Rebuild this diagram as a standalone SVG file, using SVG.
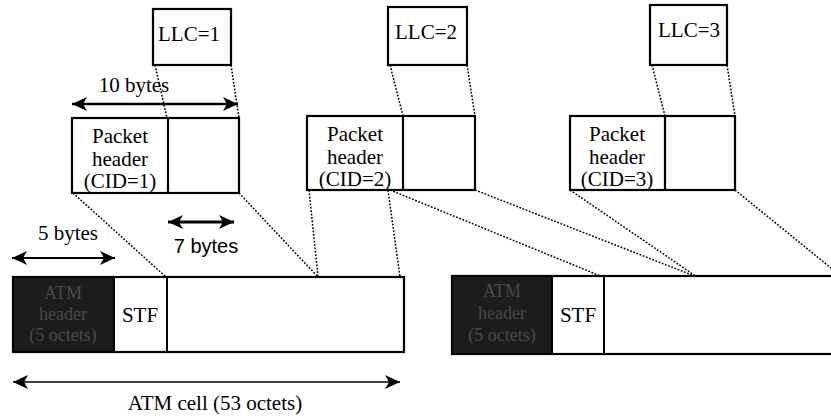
<svg xmlns="http://www.w3.org/2000/svg" width="831" height="416" viewBox="0 0 831 416">
<style>
.box{fill:#fff;stroke:#000;stroke-width:2.2}
.hdr{fill:#1c1c1c;stroke:#000;stroke-width:2}
.t{font-family:"Liberation Serif","Times New Roman",serif;font-size:21px;fill:#000;text-anchor:middle}
.s{font-family:"Liberation Sans",Arial,sans-serif;font-size:20px;fill:#000;text-anchor:middle}
.h{font-family:"Liberation Serif","Times New Roman",serif;font-size:18px;fill:#4a4a4a;text-anchor:middle}
.dot{stroke:#000;stroke-width:1.5;stroke-dasharray:1.8 1.6;fill:none}
.arr{stroke:#000;fill:none;marker-start:url(#ah);marker-end:url(#ah)}
</style>
<defs>
<marker id="ah" markerUnits="userSpaceOnUse" markerWidth="16" markerHeight="14" refX="15" refY="7" orient="auto-start-reverse">
<path d="M0,0 L15,7 L0,14 L4,7 z" fill="#000"/>
</marker>
</defs>
<rect width="831" height="416" fill="#fff"/>
<g id="connectors">
<line class="dot" x1="155" y1="65" x2="167" y2="118"/>
<line class="dot" x1="231" y1="65" x2="239" y2="118"/>
<line class="dot" x1="390" y1="65" x2="403" y2="116"/>
<line class="dot" x1="467" y1="65" x2="475" y2="116"/>
<line class="dot" x1="652" y1="65" x2="665" y2="116"/>
<line class="dot" x1="727" y1="65" x2="735" y2="116"/>
<line class="dot" x1="73" y1="193" x2="166" y2="277"/>
<line class="dot" x1="239" y1="193" x2="318" y2="277"/>
<line class="dot" x1="309" y1="190" x2="318" y2="277"/>
<line class="dot" x1="388" y1="190" x2="400" y2="277"/>
<line class="dot" x1="390" y1="190" x2="603" y2="277"/>
<line class="dot" x1="475" y1="190" x2="697" y2="277"/>
<line class="dot" x1="570" y1="190" x2="697" y2="277"/>
<line class="dot" x1="735" y1="190" x2="842" y2="277"/>
</g>
<g id="llc1"><rect class="box" x="153" y="9" width="78" height="56"/><text class="t" x="189" y="41">LLC=1</text></g>
<g id="llc2"><rect class="box" x="388" y="7" width="79" height="58"/><text class="t" x="426" y="39">LLC=2</text></g>
<g id="llc3"><rect class="box" x="650" y="5" width="77" height="60"/><text class="t" x="689" y="37">LLC=3</text></g>
<g id="pkt1"><rect class="box" x="72" y="118" width="167" height="75"/><line x1="168" y1="118" x2="168" y2="193" stroke="#000" stroke-width="2.2"/>
<text class="t" x="120" y="143">Packet</text><text class="t" x="120" y="166">header</text><text class="t" x="120" y="188">(CID=1)</text></g>
<g id="pkt2"><rect class="box" x="307" y="116" width="168" height="74"/><line x1="403" y1="116" x2="403" y2="190" stroke="#000" stroke-width="2.2"/>
<text class="t" x="355" y="141">Packet</text><text class="t" x="355" y="164">header</text><text class="t" x="355" y="186">(CID=2)</text></g>
<g id="pkt3"><rect class="box" x="570" y="116" width="165" height="74"/><line x1="665" y1="116" x2="665" y2="190" stroke="#000" stroke-width="2.2"/>
<text class="t" x="617" y="141">Packet</text><text class="t" x="617" y="164">header</text><text class="t" x="617" y="186">(CID=3)</text></g>
<g id="cell1"><rect class="box" x="13" y="277" width="391" height="75" stroke-width="2.6"/>
<rect class="hdr" x="13" y="277" width="101" height="75"/>
<text class="h" x="63" y="299">ATM</text><text class="h" x="63" y="320">header</text><text class="h" x="63" y="341">(5 octets)</text>
<line x1="167" y1="277" x2="167" y2="352" stroke="#000" stroke-width="2"/>
<text class="t" x="140" y="322">STF</text></g>
<g id="cell2"><rect class="box" x="452" y="276" width="390" height="78" stroke-width="2.6"/>
<rect class="hdr" x="452" y="276" width="100" height="78"/>
<text class="h" x="502" y="297">ATM</text><text class="h" x="502" y="319">header</text><text class="h" x="502" y="341">(5 octets)</text>
<line x1="604" y1="276" x2="604" y2="354" stroke="#000" stroke-width="2"/>
<text class="t" x="578" y="322">STF</text></g>
<g id="dims">
<line class="arr" x1="72" y1="104" x2="238" y2="104" stroke-width="2.6"/>
<text class="t" x="134" y="92">10 bytes</text>
<line class="arr" x1="168" y1="222" x2="234" y2="222" stroke-width="3"/>
<text class="s" x="206" y="253">7 bytes</text>
<line class="arr" x1="12" y1="258" x2="115" y2="258" stroke-width="2"/>
<text class="t" x="68" y="240">5 bytes</text>
<line class="arr" x1="13" y1="382" x2="400" y2="382" stroke-width="1.6"/>
<text class="t" x="215" y="410">ATM cell (53 octets)</text>
</g>
</svg>
